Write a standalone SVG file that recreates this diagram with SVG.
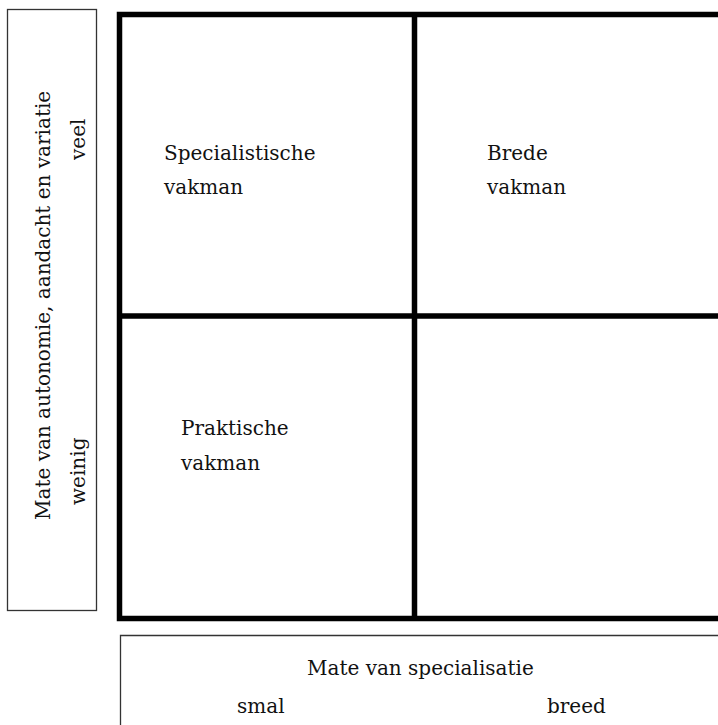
<svg xmlns="http://www.w3.org/2000/svg" width="718" height="725" viewBox="0 0 718 725">
<style>
text{font-family:"DejaVu Serif","Liberation Serif",serif;font-size:20px;fill:#111}
.thin{fill:none;stroke:#333;stroke-width:1.3}
.thick{fill:none;stroke:#000;stroke-width:5.5}
</style>
<rect width="718" height="725" fill="#fff"/>
<g id="y-axis">
<rect class="thin" x="7.5" y="9.5" width="89" height="601"/>
<text transform="translate(50,520) rotate(-90)">Mate van autonomie, aandacht en variatie</text>
<text transform="translate(85,505) rotate(-90)">weinig</text>
<text transform="translate(85,160) rotate(-90)">veel</text>
</g>
<g id="grid">
<path class="thick" d="M725,14.5 H119.5 V618.5 H725"/>
<path class="thick" d="M414.5,14.5 V618.5 M119.5,316 H725"/>
</g>
<g id="q-specialistische">
<text x="164" y="160">Specialistische</text>
<text x="164" y="194">vakman</text>
</g>
<g id="q-brede">
<text x="487" y="160">Brede</text>
<text x="487" y="194">vakman</text>
</g>
<g id="q-praktische">
<text x="181" y="435">Praktische</text>
<text x="181" y="470">vakman</text>
</g>
<g id="x-axis">
<path class="thin" d="M725,635.5 H120.5 V730"/>
<text x="307" y="675">Mate van specialisatie</text>
<text x="237" y="713">smal</text>
<text x="547" y="713">breed</text>
</g>
</svg>
